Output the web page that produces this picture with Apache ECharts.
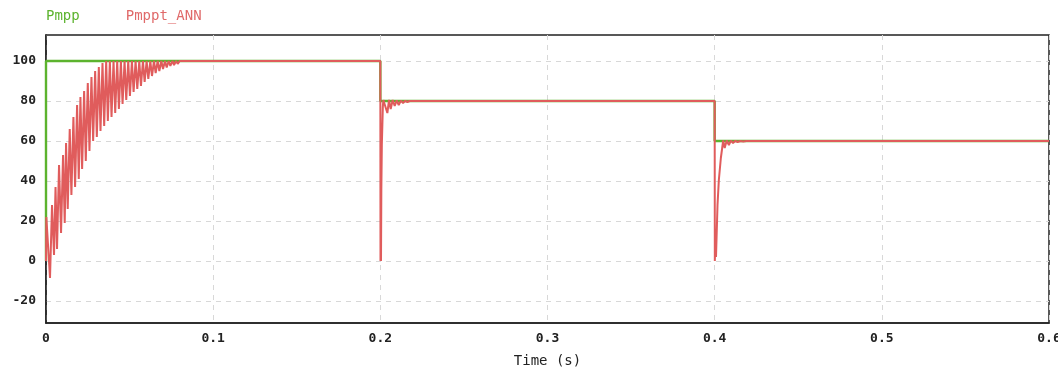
<!DOCTYPE html>
<html>
<head>
<meta charset="utf-8">
<script src="https://cdn.jsdelivr.net/npm/echarts@6/dist/echarts.min.js"></script>
<style>html,body{margin:0;padding:0;background:#fff;overflow:hidden;}#c{width:1058px;height:371px;}</style>
</head>
<body>
<div id="c"></div>
<script>
// ---- data ----
const seriesNames = ['Pmpp', 'Pmppt_ANN'];
const xTicks = [0, 0.1, 0.2, 0.3, 0.4, 0.5, 0.6];
const yTicks = [-20, 0, 20, 40, 60, 80, 100];

// Pmpp step reference (time s, power)
const pmpp = [[0,0],[0,100],[0.2,100],[0.2,80],[0.4,80],[0.4,60],[0.6,60]];

// Pmppt_ANN tracked power (time s, power)
const annStart = [[0,0],[0.0002,22],[0.0012,22],[0.0024,-8.5],[0.0036,28],[0.0048,3],[0.0057,37],[0.0066,6],[0.0078,48],[0.009,14],
  [0.0102,53],[0.0112,19],[0.012,59],[0.013,26],[0.0142,66],[0.0152,33],[0.0164,72],[0.0174,37],[0.0186,78],[0.0196,41],
  [0.0206,82],[0.0216,46],[0.0228,85],[0.0238,50],[0.025,89],[0.026,55],[0.0272,92],[0.0282,60],[0.0294,95],[0.0304,62],
  [0.0316,97],[0.0326,65],[0.0338,99],[0.0348,67.5],[0.036,100],[0.037,70],[0.0382,100],[0.0392,72],[0.0404,100],[0.0414,74],
  [0.0426,100],[0.0436,76],[0.0448,100],[0.0458,78.5],[0.047,100],[0.048,80.5],[0.0492,100],[0.0502,82.5],[0.0514,100],[0.0524,84.5],
  [0.0536,100],[0.0546,86],[0.0558,100],[0.0568,87.5],[0.058,100],[0.059,89.5],[0.0602,100],[0.0612,91],[0.0624,100],[0.0634,92.5],
  [0.0646,100],[0.0656,94],[0.0668,100],[0.0678,95],[0.069,100],[0.07,96],[0.0712,100],[0.0722,96.8],[0.0734,100],[0.0744,97.5],
  [0.0756,100],[0.0766,98],[0.0778,100],[0.0788,98.6],[0.08,100],[0.081,99.2],[0.0822,100],[0.0832,99.6],[0.0844,100]];
const annStep1 = [[0.2,100],[0.2001,0],[0.2003,12],[0.2004,0],[0.2006,36],[0.2009,58],[0.2013,58],[0.2015,77],[0.2018,80.5],
  [0.2042,74],[0.2052,80.5],[0.2062,76],[0.2074,80.5],[0.2086,77.5],[0.2098,80.3],[0.211,78],[0.2123,80.2],[0.2136,79],
  [0.2149,80.1],[0.2162,79.5],[0.2175,80],[0.4,80]];
const annStep2 = [[0.4,80],[0.4001,0],[0.4005,15.5],[0.4008,2],[0.4017,28],[0.4025,40.5],[0.4037,51.5],[0.4045,56.5],[0.4051,60.3],
  [0.406,56.5],[0.4072,60.3],[0.4085,58],[0.4097,60.2],[0.411,59],[0.4124,60.1],[0.4137,59.5],[0.4154,60],[0.4171,59.8],[0.419,60],[0.6,60]];

const ann = annStart.concat(annStep1, annStep2);

const colors = { pmpp: '#5cb32e', ann: '#e05c5c' };
const font = '"DejaVu Sans Mono", "Liberation Mono", monospace';

const chart = echarts.init(document.getElementById('c'), null, { renderer: 'canvas' });
chart.setOption({
  animation: false,
  backgroundColor: '#ffffff',
  legend: {
    top: 4, left: 36, icon: 'none', itemWidth: 0, itemGap: 41,
    textStyle: { fontFamily: font, fontSize: 14 },
    data: [
      { name: seriesNames[0], textStyle: { color: '#5cb32e' } },
      { name: seriesNames[1], textStyle: { color: '#e06a6a' } }
    ]
  },
  grid: { left: 46, right: 9, top: 35, bottom: 48, show: true, borderColor: '#222', borderWidth: 1.5,
          containLabel: false, outerBoundsMode: 'none' },
  xAxis: {
    type: 'value', min: 0, max: 0.6, interval: 0.1,
    name: 'Time (s)', nameLocation: 'middle', nameGap: 31,
    nameTextStyle: { fontFamily: font, fontSize: 14, color: '#222' },
    axisLine: { show: true, onZero: false, lineStyle: { color: '#222', width: 1.5 } },
    axisTick: { show: false },
    axisLabel: { fontFamily: font, fontSize: 13, color: '#222', margin: 9, fontWeight: 'bold' },
    splitLine: { show: true, lineStyle: { color: '#d8d8d8', type: [5, 5] } }
  },
  yAxis: {
    type: 'value', min: -31, max: 113,
    axisLine: { show: true, lineStyle: { color: '#222', width: 1.5 } },
    axisTick: { show: false, customValues: yTicks },
    axisLabel: { fontFamily: font, fontSize: 13, color: '#222', margin: 10, fontWeight: 'bold', customValues: yTicks },
    splitLine: { show: true, lineStyle: { color: '#d8d8d8', type: [5, 5] } }
  },
  series: [
    { name: seriesNames[0], type: 'line', data: pmpp, symbol: 'none', color: colors.pmpp,
      lineStyle: { color: colors.pmpp, width: 2.4 }, z: 2 },
    { name: seriesNames[1], type: 'line', data: ann, symbol: 'none', color: colors.ann,
      lineStyle: { color: colors.ann, width: 2 }, z: 3 }
  ]
});
</script>
</body>
</html>
